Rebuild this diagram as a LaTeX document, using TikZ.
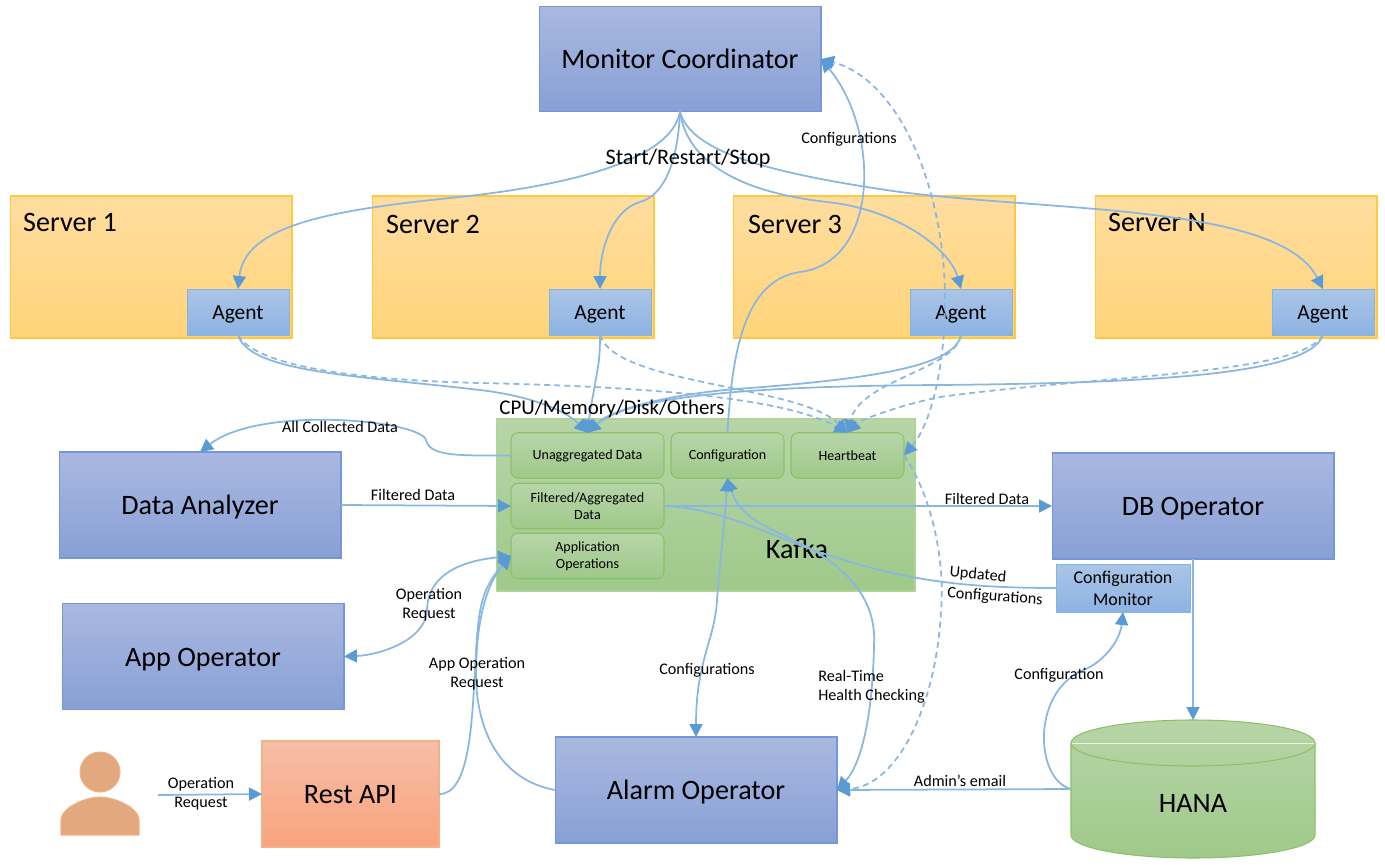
\documentclass[tikz,border=0pt]{standalone}
\usepackage{fontspec}
\setmainfont{Carlito}
\usetikzlibrary{arrows.meta}
\definecolor{lineblue}{HTML}{5B9BD5}
\tikzset{
  bigfont/.style={font=\fontsize{16}{19}\selectfont,text height=12pt,text depth=0.7pt},
  opbox/.style={draw=boxline,line width=0.6pt,top color=boxtop,bottom color=boxbot,outer sep=0pt,minimum width=5.64cm,minimum height=2.12cm,align=center,bigfont},
  serverbox/.style={draw=srvline,line width=0.6pt,top color=srvtop,bottom color=srvbot,outer sep=0pt,minimum width=5.64cm,minimum height=2.84cm},
  lightbox/.style={draw=lineblue!75!white,line width=0.5pt,top color=agtop,bottom color=agbot,outer sep=0pt},
  agentbox/.style={lightbox,minimum width=2.04cm,minimum height=0.92cm,font=\fontsize{12.2}{14}\selectfont,text height=8.6pt,text depth=0.6pt},
  innerbox/.style={draw=grnline,line width=0.6pt,rounded corners=4pt,top color=grntop,bottom color=grnbot,outer sep=0pt,minimum height=0.91cm,align=center,font=\fontsize{8}{9.4}\selectfont},
  wire/.style={draw=lineblue!72!white,line width=1pt,>={Triangle[length=7.4pt,width=7.4pt,color=lineblue]}},
  dashwire/.style={wire,dashed,dash pattern=on 3.4pt off 2.4pt},
  tag/.style={inner sep=0pt,align=center,font=\fontsize{9.2}{11}\selectfont},
  bigtag/.style={inner sep=0pt,font=\fontsize{16}{19}\selectfont},
  midtag/.style={inner sep=0pt,font=\fontsize{12.2}{14}\selectfont}
}
\definecolor{boxtop}{HTML}{AAB8E0}
\definecolor{boxbot}{HTML}{88A0D6}
\definecolor{boxline}{HTML}{7397D8}
\definecolor{srvtop}{HTML}{FFDD9F}
\definecolor{srvbot}{HTML}{FFD479}
\definecolor{srvline}{HTML}{FFC93F}
\definecolor{agtop}{HTML}{AAC5E7}
\definecolor{agbot}{HTML}{8DB3E2}
\definecolor{grntop}{HTML}{B7D5A8}
\definecolor{grnbot}{HTML}{9FC98A}
\definecolor{grnline}{HTML}{8CC168}
\definecolor{resttop}{HTML}{F7BEA8}
\definecolor{restbot}{HTML}{F8A37C}
\definecolor{restline}{HTML}{F4B183}
\definecolor{usercol}{HTML}{E2A97F}
\begin{document}
\begin{tikzpicture}[x=0.02cm,y=-0.02cm]
  \useasboundingbox (0,0) rectangle (1385,865);

  \node[opbox,minimum height=2.1cm] (mon) at (680,59) {Monitor Coordinator};
  \node[serverbox] (srvone) at (151,267) {};
  \node[serverbox] (srvtwo) at (513,267) {};
  \node[serverbox] (srvthree) at (874,267) {};
  \node[serverbox] (srvn) at (1236,267) {};
  \node[bigtag] (srvonetag) at (70,222) {Server 1};
  \node[bigtag] (srvtwotag) at (433,224) {Server 2};
  \node[bigtag] (srvthreetag) at (795,224) {Server 3};
  \node[bigtag] (srvntag) at (1157,222) {Server N};
  \node[agentbox] (agone) at (238,312) {Agent};
  \node[agentbox] (agtwo) at (600,312) {Agent};
  \node[agentbox] (agthree) at (961,312) {Agent};
  \node[agentbox] (agn) at (1323,312) {Agent};

  \node[draw=grnline!70!white,line width=0.6pt,top color=grntop,bottom color=grnbot,outer sep=0pt,minimum width=8.38cm,minimum height=3.44cm] (kafka) at (705.5,505) {};
  \node[bigtag] (kafkatag) at (797,549) {Kafka};
  \node[innerbox,minimum width=3.06cm] (unagg) at (587.5,455.5) {Unaggregated Data};
  \node[innerbox,minimum width=2.26cm] (config) at (727.5,455.5) {Configuration};
  \node[innerbox,minimum width=2.26cm] (heart) at (847.5,455.5) {Heartbeat};
  \node[innerbox,minimum width=3.06cm] (filt) at (587.5,506) {Filtered/Aggregated\\Data};
  \node[innerbox,minimum width=3.06cm] (appops) at (587.5,556) {Application\\Operations};

  \node[opbox] (analyzer) at (200,505) {Data Analyzer};
  \node[opbox] (appop) at (203,656.5) {App Operator};
  \node[opbox] (dbop) at (1193,506) {DB Operator};
  \node[opbox] (alarm) at (696,790) {Alarm Operator};
  \node[draw=restline,line width=0.6pt,top color=resttop,bottom color=restbot,outer sep=0pt,minimum width=3.54cm,minimum height=2.12cm,bigfont] (rest) at (350.5,794) {Rest API};
  \node[lightbox,minimum width=2.68cm,minimum height=0.96cm,align=center,font=\fontsize{10.2}{12.6}\selectfont] (confmon) at (1123,588) {Configuration\\Monitor};

  \path[draw=grnline,line width=0.6pt,top color=grntop,bottom color=grnbot] (1071,743) arc (180:360:122 and 23) -- (1315,835) arc (0:180:122 and 23) -- cycle;
  \draw[white!70!grntop,line width=0.5pt] (1071,743) -- (1315,743);
  \draw[grnline,line width=0.6pt] (1071,743) arc (180:0:122 and 23);
  \node[minimum width=4.88cm,minimum height=2.76cm,outer sep=0pt] (hana) at (1193,789) {};
  \node[bigtag] (hanatag) at (1193,803) {HANA};

  \node[circle,draw=restline,fill=usercol,line width=0.6pt,minimum size=0.8cm,inner sep=0pt] (userhead) at (100,772) {};
  \path[draw=restline,fill=usercol,line width=0.6pt] (61,835) -- (61,820) .. controls (61,808) and (85,797) .. (100,797) .. controls (115,797) and (139,808) .. (139,820) -- (139,835) -- cycle;
  \coordinate (userout) at (158,795);

  \draw[wire,->] (mon.south) .. controls (672,160) and (570,185) .. (460,197) .. controls (330,210) and (245,225) .. (agone.north);
  \draw[wire,->] (mon.south) .. controls (678,160) and (665,195) .. (640,202) .. controls (612,210) and (600,250) .. (agtwo.north);
  \draw[wire,->] (mon.south) .. controls (685,150) and (720,190) .. (827,202) .. controls (900,210) and (950,250) .. (agthree.north);
  \draw[wire,->] (mon.south) .. controls (690,150) and (760,172) .. (900,192) .. controls (1060,212) and (1280,205) .. (agn.north);

  \draw[wire,->] (agone.south) .. controls (250,372) and (350,375) .. (480,390) .. controls (530,396) and (565,410) .. (unagg.north);
  \draw[wire,->] (agtwo.south) .. controls (600,365) and (597,370) .. (594,390) .. controls (591,405) and (589,420) .. (unagg.north);
  \draw[wire,->] (agthree.south) .. controls (955,365) and (880,378) .. (750,388) .. controls (670,393) and (610,410) .. (unagg.north);
  \draw[wire,->] (agn.south) .. controls (1310,375) and (1150,383) .. (940,385) .. controls (760,386) and (630,395) .. (unagg.north);
  \draw[dashwire,->] (agone.south) .. controls (255,365) and (350,380) .. (480,383) .. controls (620,386) and (780,395) .. (heart.north);
  \draw[dashwire,->] (agtwo.south) .. controls (615,385) and (800,385) .. (heart.north);
  \draw[dashwire,->] (agthree.south) .. controls (955,370) and (860,380) .. (heart.north);
  \draw[dashwire,->] (agn.south) .. controls (1300,375) and (1100,375) .. (940,397) .. controls (900,405) and (860,420) .. (heart.north);

  \draw[wire,->] (config.north) .. controls (732,350) and (745,280) .. (800,272) .. controls (880,262) and (880,130) .. (mon.east);
  \draw[dashwire,<->] (heart.east) .. controls (930,425) and (945,370) .. (945,300) .. controls (945,190) and (900,80) .. (mon.east);
  \draw[dashwire,->] (heart.east) .. controls (935,500) and (945,570) .. (941,610) .. controls (937,700) and (900,785) .. (alarm.east);

  \draw[wire,->] (unagg.west) .. controls (450,456) and (430,455) .. (426,440) .. controls (420,420) and (260,405) .. (analyzer.north);
  \draw[wire,->] (analyzer.east) -- (filt.west);
  \draw[wire,->] (filt.east) -- (dbop.west);
  \draw[wire] (filt.east) .. controls (720,508) and (770,535) .. (813,550) .. controls (900,580) and (960,588) .. (confmon.west);
  \draw[wire,<->] (config.south) .. controls (740,520) and (775,530) .. (813,550) .. controls (860,578) and (876,610) .. (874,645) .. controls (873,700) and (865,760) .. (alarm.east);
  \draw[wire,<->] (alarm.north) .. controls (696,660) and (715,640) .. (717,600) .. controls (720,560) and (725,520) .. (config.south);

  \draw[wire,<->] (appops.west) .. controls (470,560) and (428,570) .. (427,610) .. controls (426,640) and (380,655) .. (appop.east);
  \draw[wire,->] (rest.east) .. controls (470,795) and (472,720) .. (475,670) .. controls (478,610) and (480,590) .. (appops.west);
  \draw[wire,->] (alarm.west) .. controls (500,780) and (475,730) .. (476,670) .. controls (477,610) and (490,580) .. (appops.west);
  \draw[wire,->] (userout) -- (rest.west);

  \draw[wire,->] (dbop.south) -- (hana.north);
  \draw[wire,->] (hana.west) -- (alarm.east);
  \draw[wire,->] (hana.west) .. controls (1035,780) and (1030,690) .. (1086,669) .. controls (1105,660) and (1120,640) .. (confmon.south);

  \node[midtag,font=\fontsize{12.6}{14}\selectfont] (starttag) at (688,159) {Start/Restart/Stop};
  \node[midtag,font=\fontsize{11.9}{14}\selectfont] (cputag) at (612,409) {CPU/Memory/Disk/Others};
  \node[tag] (conftag) at (849,139) {Configurations};
  \node[tag] (alltag) at (340,427) {All Collected Data};
  \node[tag] (filttag) at (413,495) {Filtered Data};
  \node[tag] (filttwotag) at (987,499) {Filtered Data};
  \node[tag,rotate=-5] (updtag) at (978,575) {Updated};
  \node[tag,rotate=-4] (updtwotag) at (995,597) {Configurations};
  \node[tag] (opreqtag) at (429,605) {Operation\\Request};
  \node[tag] (apptag) at (477,674) {App Operation\\Request};
  \node[tag] (conftwotag) at (707,670) {Configurations};
  \node[tag,align=left,anchor=west] (healthtag) at (818,687) {Real-Time\\Health Checking};
  \node[tag] (conftrtag) at (1059,675) {Configuration};
  \node[tag] (admintag) at (960,781) {Admin's email};
  \node[tag] (userreqtag) at (201,794) {Operation\\Request};
\end{tikzpicture}
\end{document}
